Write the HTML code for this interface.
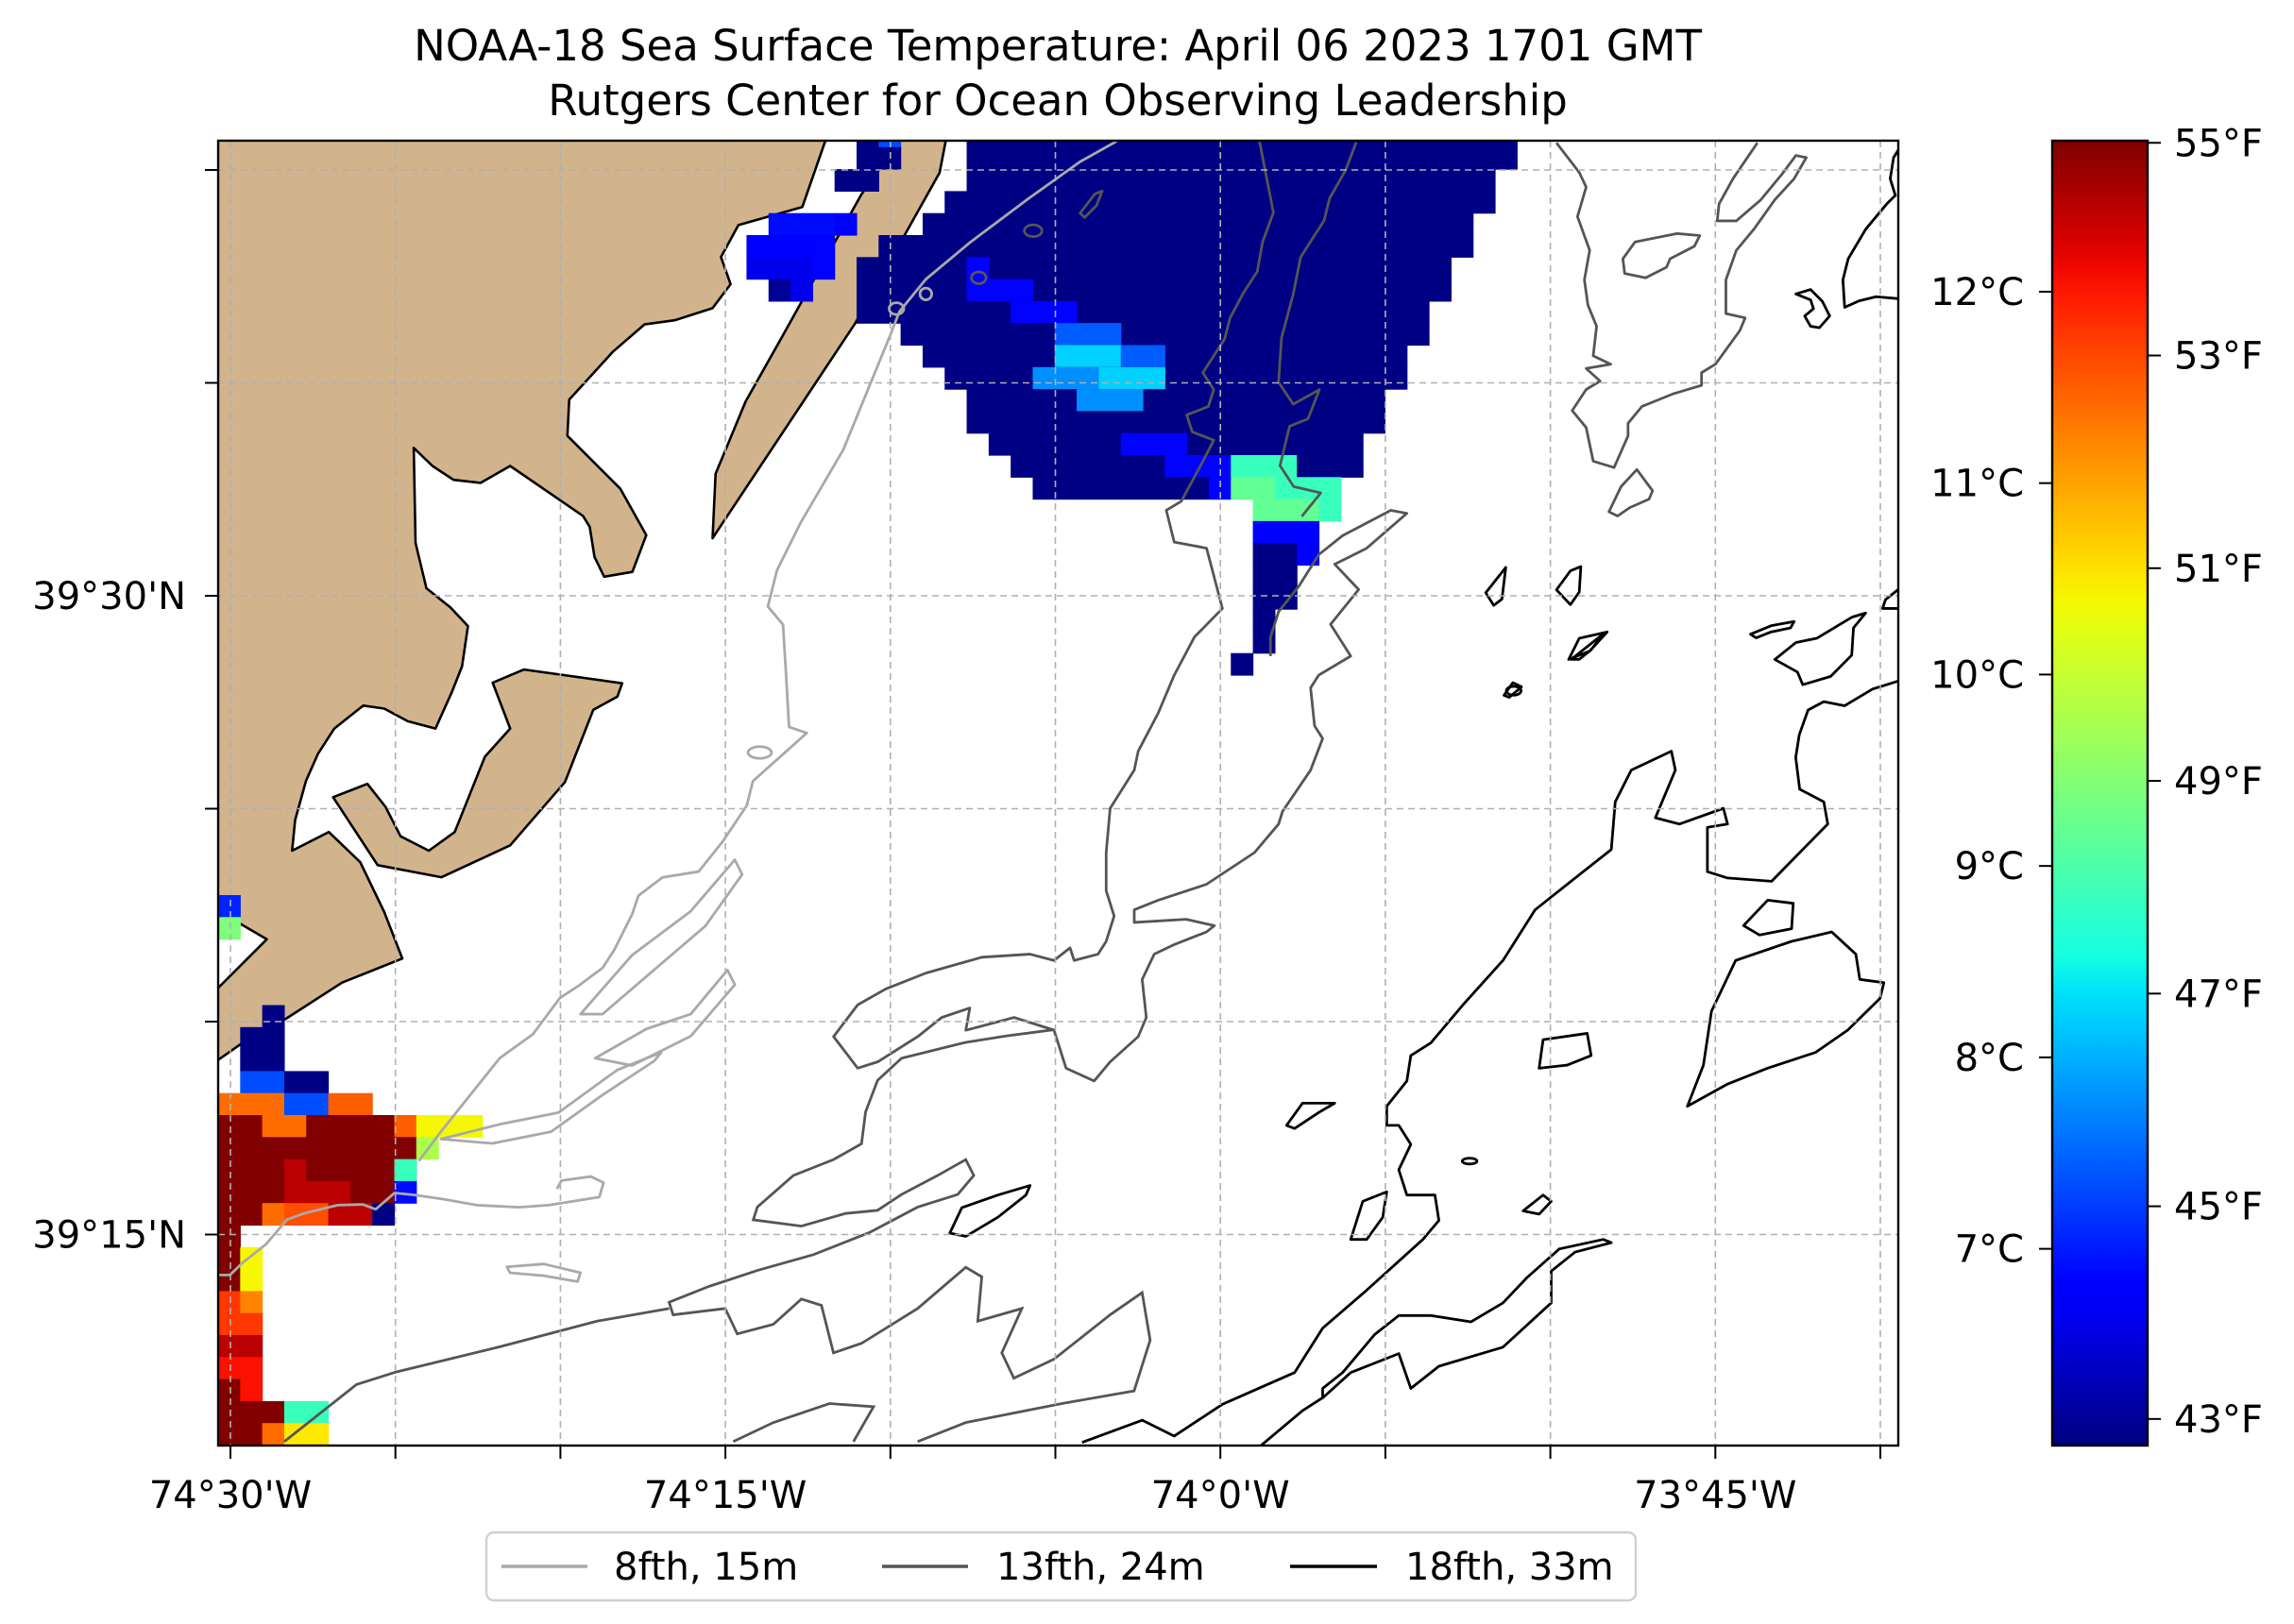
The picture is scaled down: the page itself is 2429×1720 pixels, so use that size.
<!DOCTYPE html>
<html><head><meta charset="utf-8">
<style>
html,body{margin:0;padding:0;background:#fff;}
svg{display:block;font-family:"DejaVu Sans","Liberation Sans",sans-serif;}
</style></head>
<body>
<svg id="fig" width="2429" height="1720" viewBox="0 0 2429 1720" xmlns="http://www.w3.org/2000/svg">
<defs>
<clipPath id="plotclip"><rect x="231" y="149" width="1779" height="1382"/></clipPath>
<linearGradient id="jetgrad" x1="0" y1="1" x2="0" y2="0"></linearGradient>
</defs>
<rect x="0" y="0" width="2429" height="1720" fill="#fff"/>
<text x="1120" y="64" font-size="45" text-anchor="middle">NOAA-18 Sea Surface Temperature: April 06 2023 1701 GMT</text>
<text x="1120" y="122" font-size="45" text-anchor="middle">Rutgers Center for Ocean Observing Leadership</text>

<g clip-path="url(#plotclip)">
  <g fill="#d2b48c" stroke="#000" stroke-width="2.6" stroke-linejoin="round">
    <path d="M229,146 L875,146 849.5,219.3 781.9,238.4 763.4,272.2 773.6,300.9 754.5,326.4 714.3,339.2 682.4,343.6 649.2,372.3 602.7,423.3 600.8,461.6 656.9,517.7 684.3,566.8 669.6,605.7 639.7,610.8 629.5,589.8 624.4,557.9 617.3,546.4 540.2,493.5 508.9,511.4 480.2,508.2 457.9,493.5 438.1,474.4 440,575.1 451.5,623 477,643.4 495.5,663.1 489.2,705.9 478.3,733.3 461.1,771.6 431.8,763.9 406.9,750.5 384.6,747.3 354,771.6 336.7,798.3 324,827 312.5,868.5 309.3,901 348.2,881.2 381.4,913.1 406.9,966 426,1015.2 362.2,1040.7 302.9,1078.9 254.7,1106 229,1124 229,1048.3 282.5,994.8 255,978.8 229,964.2Z"/>
    <path d="M352.7,844.3 L389,830.2 408.2,854.5 424.1,885.7 454.1,901 481.5,881.2 513.4,801.5 540.2,771.6 521.7,723.1 554.8,709.1 658.8,723.7 653.7,737.8 628.2,751.8 598.2,828.3 540.2,895.3 467.5,929.1 399.9,916.3Z"/>
    <path d="M955,146 L1002,146 994.9,182.9 905.6,342.3 754.5,570 757.7,501.8 789.5,425.3 829,355.1 912,206Z"/>
  </g>
  <g id="cells"></g>

  <g transform="scale(1.5561,1.5566)" fill="none" stroke-linejoin="round">
    <g stroke="#a9a9a9">
      <path vector-effect="non-scaling-stroke" stroke-width="2.8" d="M760,96 L735,110 700,135 660,165 630,190 612,212 605.7,228.2 573.8,306 545,355.3 528.7,388 522.5,412.7 532.8,425 534.8,457.7 536.9,494.6 549,498.7 512.3,531.5 508.2,548 491.8,572.5 475.4,593 450.8,597 434.4,609.4 430.3,621.7 418,646.3 410,658.6 393.4,670.9 381,679 362.7,703.6 340,720 320,745 300,770 285,790"/>
      <path vector-effect="non-scaling-stroke" stroke-width="2.8" d="M148.5,867.5 L156.5,867.5 165,859.2 181,846.6 195.3,829.8 206.8,825.6 229.8,820 247,819.5 255.6,822.8 268.5,811.7 281.4,813 301.5,815.9 324.5,820 353.3,821.4 373.3,820 407.8,814.5 410.7,804.7 402,800.5 382,803.3 379,808.9"/>
      <path vector-effect="non-scaling-stroke" stroke-width="2.8" d="M395,690 L430,650 470,620 500,585 505,595 480,630 445,660 410,690Z"/>
      <path vector-effect="non-scaling-stroke" stroke-width="2.8" d="M405,720 L440,700 470,690 495,660 500,670 470,705 430,725Z"/>
      <path vector-effect="non-scaling-stroke" stroke-width="2.8" d="M300,775 L340,765 380,757 420,728 450,716 445,722 410,745 375,770 335,778Z"/>
      <path vector-effect="non-scaling-stroke" stroke-width="2.8" d="M345,862 L370,860 395,866 393,872 370,868 347,866Z"/>
      <ellipse vector-effect="non-scaling-stroke" stroke-width="2.8" cx="517" cy="512" rx="8" ry="4"/>
      <ellipse vector-effect="non-scaling-stroke" stroke-width="2.8" cx="610" cy="210" rx="5" ry="4"/>
      <ellipse vector-effect="non-scaling-stroke" stroke-width="2.8" cx="630" cy="200" rx="4" ry="4"/>
    </g>
    <g stroke="#555">
      <path vector-effect="non-scaling-stroke" stroke-width="2.8" d="M857,96 L866.5,144.6 859.1,164.7 855.5,184.8 846.2,199.1 837,216.3 833.3,230.6 825.9,242.1 818.5,253.6 825.9,265.1 822.2,276.6 807.5,282.3 811.2,293.8 825.9,299.5 818.5,313.9 803.8,341.1 793.6,347.2 799,368.8 821,373 831.8,414 812.7,433.5 799,459.4 788.1,485.2 774.5,511.1 771.8,524 755.4,550 752.7,580.1 752.7,606 758.1,623.3 752.7,640.5 747.2,649.2 730.9,653.5 728.1,644.9 717.2,653.5 700.9,649.2 668.1,651.3 630,662.1 602.7,672.9 583.6,683.7 567.2,705.3 583.6,726.8 597.2,722.5 624.5,705.3 640.8,692.3 659.9,685.8 657.2,701 690,692.3 717.2,700.9 725.4,726.8 744.5,735.5 755.4,722.5 774.5,705.3 780,692.3 777.2,666.4 785.4,649.2 799,642.7 820.9,634.1 826.3,629.8 807.2,625.5 771.8,627.6 771.8,619 788.1,612.5 820.9,601.7 853.6,580.1 870,560.7 872.7,552.1 891.8,524 900,502.5 894.5,493.9 891.8,468 897.3,459.4 919.1,446.4 905.4,424.8 924.5,401.1 908.2,383.9 930,373 957.3,349.3 946.4,347.2 913.6,364.4 897.3,377.4 883.7,399 870,416.2 864.5,433.5 864.5,446.4"/>
      <path vector-effect="non-scaling-stroke" stroke-width="2.8" d="M922.9,96.7 L915.5,116 904.7,135 901,150 885,175 880,200 872,230 870,260 880,275 897.8,265.1 890,285 877.5,290 871,316.8 880.3,331.1 898.7,335.4 885.8,351.3"/>
      <path vector-effect="non-scaling-stroke" stroke-width="2.8" d="M1059.1,97.2 L1074.6,117.3 1079.3,127.3 1073.4,147.4 1081.7,170.3 1078.1,190.4 1080.5,207.6 1086.4,222 1084.1,242.1 1096,247.8 1079.3,250.7 1088.8,259.3 1079.3,265 1069.8,279.4 1079.3,290.9 1084.1,313.8 1098.3,318.1 1107.8,296.6 1107.8,288 1117.3,276.5 1138.7,267.9 1157.8,262.2 1157.8,253.6 1167.3,247.8 1183.9,224.9 1187.5,216.3 1174.4,213.4 1174.4,190.4 1181.5,170.3 1193.4,156 1207.7,135.9 1220.8,121.6 1229.1,107.2 1222,105.8 1212.4,118.7 1198.2,135.9 1181.5,150.3 1168.5,150.3 1169.7,138.8 1179.2,121.6 1195.8,97.2"/>
      <path vector-effect="non-scaling-stroke" stroke-width="2.8" d="M1104.3,176.1 L1112.6,164.6 1141.1,158.9 1156.6,160.3 1153,167.5 1136.4,176.1 1134,181.8 1119.7,189 1105.5,186.1Z"/>
      <path vector-effect="non-scaling-stroke" stroke-width="2.8" d="M1094.8,348.2 L1103.1,331 1113.8,319.5 1124.5,333.9 1122.1,339.6 1109,345.4 1100.7,351.1Z"/>
      <ellipse vector-effect="non-scaling-stroke" stroke-width="2.8" cx="703" cy="157" rx="6" ry="4"/>
      <ellipse vector-effect="non-scaling-stroke" stroke-width="2.8" cx="666" cy="189" rx="5" ry="4"/>
      <path vector-effect="non-scaling-stroke" stroke-width="2.8" d="M735,145 L745,132 750,130 746,140 738,148Z"/>
    </g>
    <g stroke="#000">
      <path vector-effect="non-scaling-stroke" stroke-width="2.8" d="M736.3,981.4 L777.2,966.3 799,977.1 831.8,955.5 880.9,933.9 900,903.7 930,877.8 968.2,843.3 979.1,830.4 976.4,813.1 957.3,813.1 951.8,795.9 960,778.6 951.8,765.7 943.6,765.7 943.6,752.7 957.3,735.5 960,718.2 973.6,709.6 995.5,683.7 1022.7,653.5 1044.6,619 1071.8,597.4 1096.4,578 1099.1,545.6 1110,524 1137.3,511.1 1140,524 1126.4,556.4 1142.7,560.7 1172.7,550 1175.5,560.7 1161.8,562.9 1161.8,593.1 1175.5,597.4 1205.5,599.6 1224.6,580.1 1243.7,560.7 1241,545.6 1224.6,537 1221.9,515.4 1224.3,500 1230.3,483.1 1241,477.4 1255.2,480.2 1274.3,468.8 1293,463"/>
      <path vector-effect="non-scaling-stroke" stroke-width="2.8" d="M1293,203.3 L1276.6,201.9 1264.8,204.8 1255.2,209.1 1254,190.4 1257.6,176.1 1269.5,156 1283.8,138.8 1289.7,133 1286.2,121.6 1288.5,107.2 1293,100"/>
      <path vector-effect="non-scaling-stroke" stroke-width="2.8" d="M900,951.2 L919.1,933.9 951.8,921 960,944.7 979.1,929.6 1022.7,916.6 1055.5,886.5 1055.5,864.9 1071.8,851.9 1096.4,845.5 1090.9,843.3 1061,849.8 1039.1,869.2 1022.7,886.5 1000.9,899.4 973.6,895.1 951.8,895.1 935.4,908 913.6,933.9 900,944.7Z"/>
      <path vector-effect="non-scaling-stroke" stroke-width="2.8" d="M856.3,985 L886.3,959.8 900,951"/>
      <path vector-effect="non-scaling-stroke" stroke-width="2.8" d="M875.4,765.7 L886.3,750.6 908.2,750.6 897.3,757 880.9,767.8Z"/>
      <path vector-effect="non-scaling-stroke" stroke-width="2.8" d="M919.1,843.3 L927.3,817.4 943.6,810.9 940.9,828.2 930,843.3Z"/>
      <path vector-effect="non-scaling-stroke" stroke-width="2.8" d="M1036.4,823.9 L1050,813.1 1055.5,817.4 1047.3,826.1Z"/>
      <path vector-effect="non-scaling-stroke" stroke-width="2.8" d="M1047.3,726.8 L1050,707.4 1080,703.1 1082.7,718.2 1066.4,724.7Z"/>
      <path vector-effect="non-scaling-stroke" stroke-width="2.8" d="M1186.4,629.8 L1202.8,612.5 1220.2,614.6 1219.1,631.9 1197.3,636.2Z"/>
      <path vector-effect="non-scaling-stroke" stroke-width="2.8" d="M1148.2,752.7 L1159.1,724.7 1164.6,688 1181,653.5 1219.1,640.5 1246.4,634.1 1262.8,649.2 1265.5,666.4 1281.9,668.6 1279.2,679.4 1257.3,700.9 1235.5,716 1202.8,726.8 1175.5,737.6Z"/>
      <path vector-effect="non-scaling-stroke" stroke-width="2.8" d="M646.3,839 L654.5,821.7 679,813.1 700.9,806.6 698.1,813.1 679,828.2 657.2,841.2Z"/>
      <path vector-effect="non-scaling-stroke" stroke-width="2.8" d="M1011,403.3 L1024.6,386.1 1022,407.6 1016.4,411.9Z"/>
      <path vector-effect="non-scaling-stroke" stroke-width="2.8" d="M1069.1,448.6 L1091,431.3 1082.7,442.1 1074.6,448.6Z"/>
      <path vector-effect="non-scaling-stroke" stroke-width="2.8" d="M1059.1,401.3 L1068.6,388.4 1075.7,385.5 1074.6,402.8 1068.6,411.4Z"/>
      <path vector-effect="non-scaling-stroke" stroke-width="2.8" d="M1067.4,448.7 L1074.6,434.3 1093.6,430 1081.7,443Z"/>
      <path vector-effect="non-scaling-stroke" stroke-width="2.8" d="M1023.4,473.1 L1029.4,464.5 1035.3,467.3 1027,474.5Z"/>
      <path vector-effect="non-scaling-stroke" stroke-width="2.8" d="M1207.7,448.7 L1222,437.2 1236.2,434.3 1260,420 1269.5,417.1 1261.2,427.2 1260,445.8 1245.7,460.2 1226.7,465.9 1223.1,457.3Z"/>
      <path vector-effect="non-scaling-stroke" stroke-width="2.8" d="M1191.1,431.5 L1205.3,425.7 1220.8,422.9 1218.4,427.2 1205,430 1195,434Z"/>
      <path vector-effect="non-scaling-stroke" stroke-width="2.8" d="M1293,400 L1283,408 1281,414 1293,414"/>
      <path vector-effect="non-scaling-stroke" stroke-width="2.8" d="M1222,200 L1232,197 1240,205 1245,215 1238,223 1232,222 1228,215 1234,210 1232,204Z"/>
      <ellipse vector-effect="non-scaling-stroke" stroke-width="2.8" cx="1030" cy="470" rx="5" ry="3"/>
      <ellipse vector-effect="non-scaling-stroke" stroke-width="2.8" cx="1000" cy="790" rx="5" ry="2"/>
    </g>
  </g>
  <g transform="translate(700,500) scale(0.8489,0.6711)" fill="none" stroke="#555">
    <path vector-effect="non-scaling-stroke" stroke-width="2.8" d="M490,880 L430,890 380,900 300,925 270,960 255,1010 250,1060 215,1085 165,1110 120,1160 115,1180 175,1190 230,1170 270,1165 300,1140 345,1110 380,1085 390,1110 370,1140 320,1160 260,1200 190,1235 120,1260 60,1285 10,1310 15,1330 80,1320 95,1360 140,1345 175,1305 200,1315 215,1390 250,1375 320,1320 380,1255 400,1270 395,1340 450,1320 425,1390 440,1430 490,1400 560,1330 600,1295 610,1370 590,1450 500,1470 380,1500 320,1530"/>
    <path vector-effect="non-scaling-stroke" stroke-width="2.8" d="M90,1530 L140,1500 210,1470 265,1475 240,1530"/>
    <path vector-effect="non-scaling-stroke" stroke-width="2.8" d="M10,1320 L-80,1340 -200,1380 -330,1420 -380,1440 -420,1480 -470,1530"/>
  </g>
  <g id="gridg"></g>
</g>
<rect x="231" y="149" width="1779" height="1382" fill="none" stroke="#000" stroke-width="2.4"/>
<g id="axesg" font-size="40"></g>

<g id="cbarg">
  <rect x="2173" y="149" width="101" height="1382" fill="url(#jetgrad)" stroke="#000" stroke-width="2.4"/>
</g>

<g>
  <rect x="515" y="1623" width="1217" height="72" rx="8" fill="#fff" stroke="#d0d0d0" stroke-width="2.4"/>
  <line x1="531" y1="1659" x2="622" y2="1659" stroke="#a9a9a9" stroke-width="3.5"/>
  <text x="650" y="1673" font-size="40">8fth, 15m</text>
  <line x1="934" y1="1659" x2="1025" y2="1659" stroke="#555" stroke-width="3.5"/>
  <text x="1055" y="1673" font-size="40">13fth, 24m</text>
  <line x1="1366" y1="1659" x2="1458" y2="1659" stroke="#000" stroke-width="3.5"/>
  <text x="1488" y="1673" font-size="40">18fth, 33m</text>
</g>
<text id="errmsg" x="20" y="1710" font-size="20" fill="red"></text>
</svg>

<script>
var runRow  = [0,0,1,2,4,4,5,5,6,6,7,7,
  0,1,2,3,4,5,6,6,7,7,8,8,9,9,10,10,10,11,11,11,12,12,13,14,14,15,15,15,15,16,16,16,16,17,17,18,19,19,20,21,22,23,24,
  35,36,40,41,42,43,43,44,44,44,45,45,45,45,45,46,46,47,47,47,47,47,48,48,48,48,49,49,49,49,49,50,51,51,52,52,53,53,54,55,56,57,57,58,58,59,59,59];
var runCol0 = [29,30,29,28,25,28,24,27,24,27,25,26,
  34,34,34,33,32,30,29,34,29,34,29,36,31,38,32,38,41,33,37,40,34,39,34,35,41,36,43,46,49,37,45,46,48,47,50,47,47,49,47,47,47,47,46,
  0,0,2,1,1,1,3,0,3,5,0,2,4,8,9,0,9,0,3,4,8,8,0,3,6,8,0,2,3,5,7,0,0,1,0,1,0,1,0,0,0,0,1,0,3,0,2,3];
var runCol1 = [29,30,30,29,27,28,26,27,26,27,25,26,
  58,58,57,57,56,56,55,34,55,36,54,38,54,40,53,40,42,53,39,42,52,41,52,51,43,42,45,48,51,44,45,47,50,49,50,49,48,49,48,48,47,47,46,
  0,0,2,2,2,2,4,2,4,6,1,3,7,8,11,8,9,2,3,7,8,8,2,5,7,8,1,2,4,6,7,0,0,1,0,1,0,1,1,1,1,0,1,2,4,1,2,4];
var runTemp = [42.8,45.2,42.8,42.8,44.4,44.1,44.2,44.3,43.9,44.3,43.0,43.9,
  42.8,42.8,42.8,42.8,42.8,42.8,42.8,44.3,42.8,44.3,42.8,44.3,42.8,45.4,42.8,46.8,45.4,42.8,46.0,46.8,42.8,46.0,42.8,42.8,44.3,42.8,44.3,47.9,42.8,42.8,44.3,48.5,47.9,48.5,47.9,44.1,42.8,44.1,42.8,42.8,42.8,42.8,42.8,
  44.7,48.9,42.8,42.8,42.8,45.2,42.8,52.5,45.2,52.7,55.0,52.5,55.0,52.7,50.7,55.0,49.6,55.0,54.4,55.0,55.0,47.9,55.0,54.4,55.0,44.4,55.0,52.5,52.9,54.4,42.8,55.0,55.0,50.7,55.0,50.7,53.2,52.2,53.2,54.4,53.7,55.0,53.7,55.0,47.9,55.0,52.5,50.9];
var fTicks = [43,45,47,49,51,53,55];
var cTicks = [7,8,9,10,11,12];
var lonTickLabels = ["74\u00b030'W","","","74\u00b015'W","","","74\u00b00'W","","","73\u00b045'W",""];
var latTickLabels = ["","","39\u00b030'N","","","39\u00b015'N"];
var vminF = 42.75;
var vmaxF = 55.02;

function drawAll() {
  var SVGNS = "http://www.w3.org/2000/svg";
  var PX0 = 231, PX1 = 2010, PY0 = 149, PY1 = 1531;
  var CX0 = 231, CY0 = 132.5, CW = 23.31, CH = 23.3;
  function colX(c){ return CX0 + c*CW; }
  function rowY(r){ return CY0 + r*CH; }
  function lonX(k){ return 244 + k*174.7; }
  function latY(k){ return 180 + k*225.5; }
  function cbY(f){ return PY1 - (f - vminF)/(vmaxF - vminF)*(PY1-PY0); }
  function interp(pts, t){
    for (var q=1;q<pts.length;q++){ if (t<=pts[q][0]){ var a=pts[q-1], b=pts[q]; return a[1]+(b[1]-a[1])*(t-a[0])/(b[0]-a[0]); } }
    return pts[pts.length-1][1];
  }
  function jet(t){
    t = Math.max(0, Math.min(1, t));
    var r = interp([[0,0],[0.35,0],[0.66,1],[0.89,1],[1,0.5]], t);
    var g = interp([[0,0],[0.125,0],[0.375,1],[0.64,1],[0.91,0],[1,0]], t);
    var b = interp([[0,0.5],[0.11,1],[0.34,1],[0.65,0],[1,0]], t);
    return "rgb(" + Math.round(r*255) + "," + Math.round(g*255) + "," + Math.round(b*255) + ")";
  }
  function tempColor(f){ return jet((f - vminF)/(vmaxF - vminF)); }
  function mk(tag, attrs, par){
    var e = document.createElementNS(SVGNS, tag);
    for (var key in attrs) { e.setAttribute(key, String(attrs[key])); }
    par.appendChild(e);
    return e;
  }

  var cellsG = document.getElementById("cells");
  for (var i=0;i<runRow.length;i++){
    var rc = mk("rect", {x: colX(runCol0[i]), y: rowY(runRow[i]), width: (runCol1[i]-runCol0[i]+1)*CW + 0.6, height: CH + 0.6, fill: tempColor(runTemp[i])}, cellsG);
    
    
  }

  var gridG = document.getElementById("gridg");
  var axesG = document.getElementById("axesg");
  for (var k=0;k<lonTickLabels.length;k++){
    var x = lonX(k);
    var gl = mk("line", {x1:x, y1:PY0, x2:x, y2:PY1, stroke:"#b0b0b0", "stroke-width":1.6, "stroke-dasharray":"7,5"}, gridG);
    
    
    var tk = mk("line", {x1:x, y1:PY1, x2:x, y2:PY1+14, stroke:"#000", "stroke-width":2}, axesG);
    
    
    if (lonTickLabels[k]) {
      var tx = mk("text", {x:x, y:1597, "text-anchor":"middle"}, axesG);
      tx.textContent = lonTickLabels[k];
      
      
    }
  }
  for (var m=0;m<latTickLabels.length;m++){
    var y = latY(m);
    var gl2 = mk("line", {x1:PX0, y1:y, x2:PX1, y2:y, stroke:"#b0b0b0", "stroke-width":1.6, "stroke-dasharray":"7,5"}, gridG);
    
    
    var tk2 = mk("line", {x1:PX0-14, y1:y, x2:PX0, y2:y, stroke:"#000", "stroke-width":2}, axesG);
    
    
    if (latTickLabels[m]) {
      var ty = mk("text", {x:197, y:y+14, "text-anchor":"end"}, axesG);
      ty.textContent = latTickLabels[m];
      
      
    }
  }

  var grad = document.getElementById("jetgrad");
  for (var s=0;s<=40;s++){
    mk("stop", {offset: s/40, "stop-color": jet(s/40)}, grad);
  }
  var cbarG = document.getElementById("cbarg");
  for (var a=0;a<fTicks.length;a++){
    var yf = cbY(fTicks[a]);
    var tf = mk("line", {x1:2274, y1:yf, x2:2288, y2:yf, stroke:"#000", "stroke-width":2}, cbarG);
    
    
    var lf = mk("text", {x:2302, y:yf+14, "font-size":40}, cbarG);
    lf.textContent = fTicks[a] + "\u00b0F";
    
    
  }
  for (var c=0;c<cTicks.length;c++){
    var yc = cbY(cTicks[c]*9/5+32);
    var tc = mk("line", {x1:2159, y1:yc, x2:2173, y2:yc, stroke:"#000", "stroke-width":2}, cbarG);
    
    
    var lc = mk("text", {x:2143, y:yc+14, "font-size":40, "text-anchor":"end"}, cbarG);
    lc.textContent = cTicks[c] + "\u00b0C";
    
    
  }
}
try { drawAll(); } catch (err) { document.getElementById("errmsg").textContent = "ERR: " + err; }
</script>
</body></html>
